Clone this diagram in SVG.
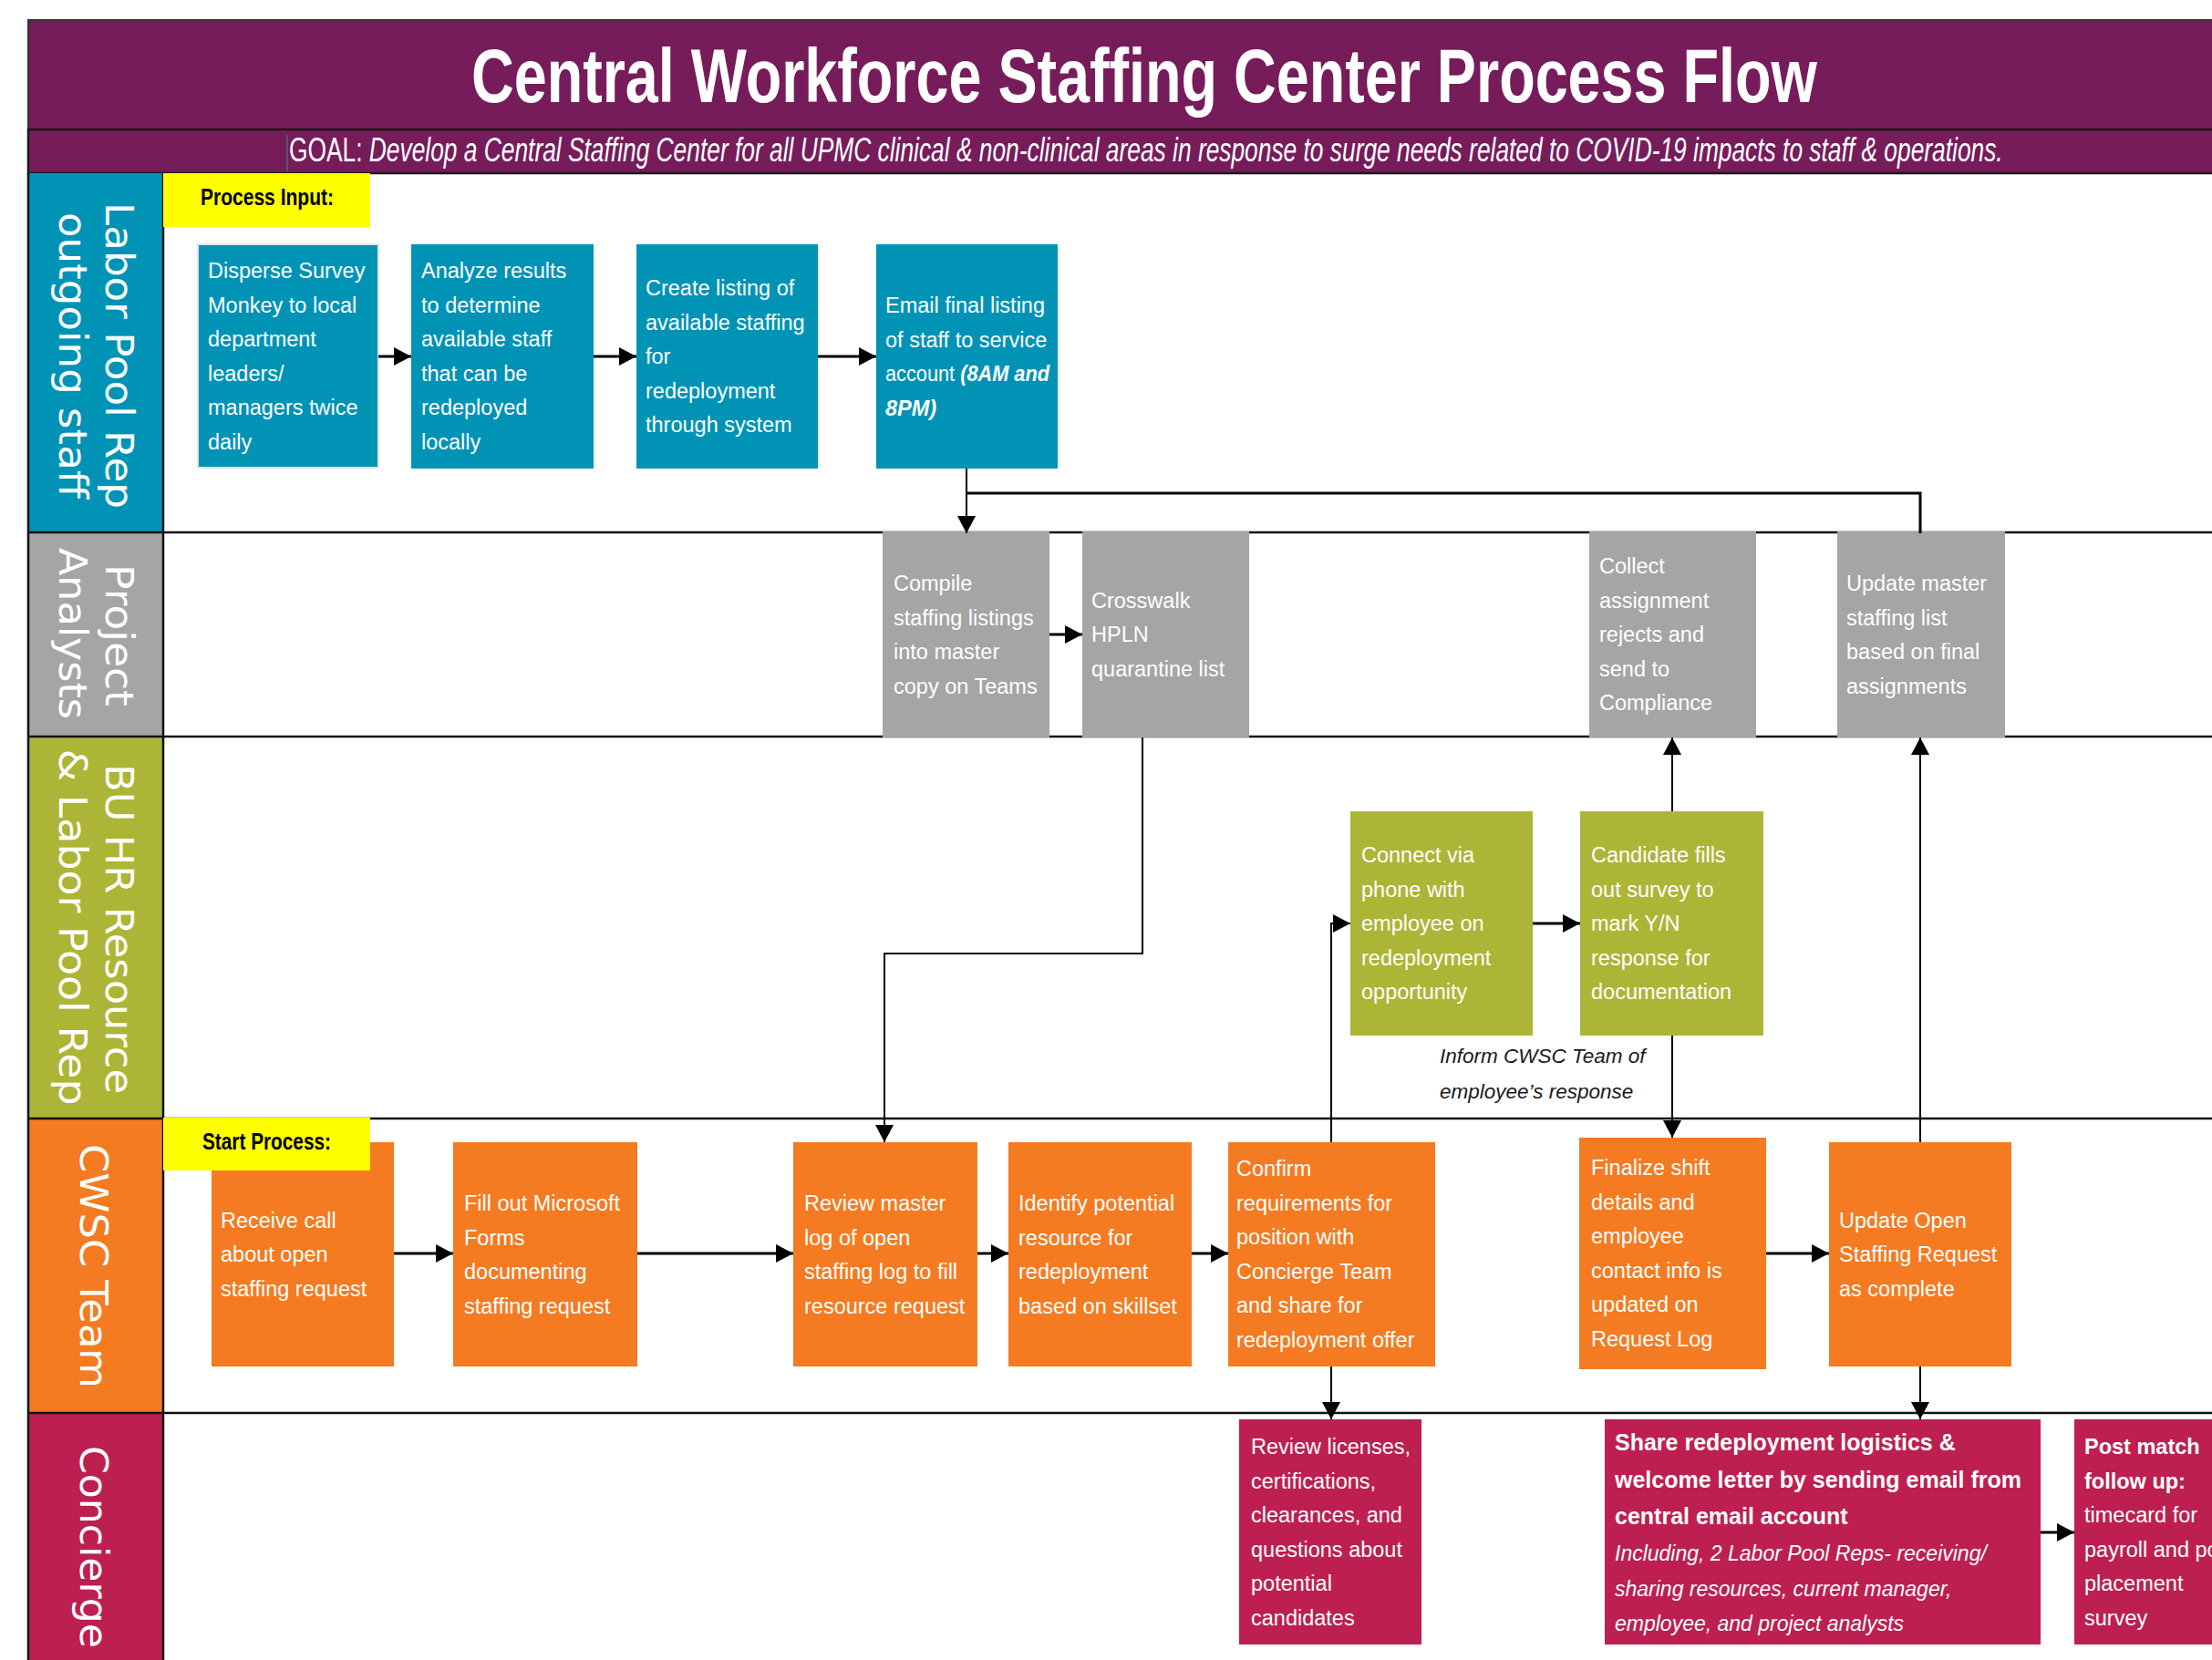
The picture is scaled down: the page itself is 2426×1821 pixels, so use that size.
<svg xmlns="http://www.w3.org/2000/svg" width="2426" height="1821" viewBox="0 0 2426 1821">
<defs>
<marker id="ah" markerUnits="userSpaceOnUse" markerWidth="19" markerHeight="20" refX="19" refY="10" orient="auto">
<path d="M0,0 L19,10 L0,20 Z" fill="#000"/>
</marker>
<style>
.nt{font-family:"Liberation Sans",Arial,sans-serif;font-size:23.5px;fill:#fff}
.b{font-weight:bold}
.i{font-style:italic}
.ll{font-family:"DejaVu Sans",Verdana,sans-serif;font-size:42px;fill:#fff}
.cn{fill:none;stroke:#000;stroke-width:2}
.th{stroke-width:3}
.lane{stroke:#111;stroke-width:2.5}
.teal{fill:#0093B6}
.gray{fill:#A5A5A5}
.olive{fill:#ACB536}
.orange{fill:#F47B22}
.crim{fill:#BD1F50}
.yl{fill:#FFFF00}
.ylt{font-family:"Liberation Sans",Arial,sans-serif;font-size:25px;font-weight:bold;fill:#000}
</style>
</defs>
<rect width="2426" height="1821" fill="#fff"/>

<!-- header -->
<g id="title">
<rect x="31" y="22" width="2400" height="120" fill="#761C5B" stroke="#333" stroke-width="2"/>
<rect x="31" y="142" width="2400" height="48" fill="#761C5B" stroke="#1a1a1a" stroke-width="2.5"/>
<text transform="translate(517,112) scale(0.77,1)" font-family="Liberation Sans, Arial, sans-serif" font-size="84" font-weight="bold" fill="#fff">Central Workforce Staffing Center Process Flow</text>
<line x1="315" y1="148" x2="315" y2="188" stroke="#4a6a70" stroke-width="1.5"/>
<text transform="translate(317,177) scale(0.712,1)" font-family="Liberation Sans, Arial, sans-serif" font-size="37" fill="#fff">GOAL: <tspan font-style="italic">Develop a Central Staffing Center for all UPMC clinical &amp; non-clinical areas in response to surge needs related to COVID-19 impacts to staff &amp; operations.</tspan></text>
</g>

<!-- lanes -->
<g id="lanes">
<rect x="31" y="190" width="148" height="394" class="teal"/>
<rect x="31" y="584" width="148" height="224" class="gray"/>
<rect x="31" y="808" width="148" height="419" class="olive"/>
<rect x="31" y="1227" width="148" height="323" class="orange"/>
<rect x="31" y="1550" width="148" height="280" class="crim"/>
<line x1="31" y1="190" x2="31" y2="1821" class="lane"/>
<line x1="179" y1="190" x2="179" y2="1821" class="lane"/>
<line x1="31" y1="584" x2="2426" y2="584" class="lane"/>
<line x1="31" y1="808" x2="2426" y2="808" class="lane"/>
<line x1="31" y1="1227" x2="2426" y2="1227" class="lane"/>
<line x1="31" y1="1550" x2="2426" y2="1550" class="lane"/>
<text class="ll" text-anchor="middle" transform="translate(116,390) rotate(90)" textLength="336" lengthAdjust="spacingAndGlyphs">Labor Pool Rep</text>
<text class="ll" text-anchor="middle" transform="translate(65,390) rotate(90)" textLength="314" lengthAdjust="spacingAndGlyphs">outgoing staff</text>
<text class="ll" text-anchor="middle" transform="translate(116,697) rotate(90)" textLength="156" lengthAdjust="spacingAndGlyphs">Project</text>
<text class="ll" text-anchor="middle" transform="translate(65,695) rotate(90)" textLength="188" lengthAdjust="spacingAndGlyphs">Analysts</text>
<text class="ll" text-anchor="middle" transform="translate(116,1019) rotate(90)" textLength="362" lengthAdjust="spacingAndGlyphs">BU HR Resource</text>
<text class="ll" text-anchor="middle" transform="translate(65,1017) rotate(90)" textLength="391" lengthAdjust="spacingAndGlyphs">&amp; Labor Pool Rep</text>
<text class="ll" text-anchor="middle" transform="translate(88,1389) rotate(90)" textLength="268" lengthAdjust="spacingAndGlyphs">CWSC Team</text>
<text class="ll" transform="translate(88,1586) rotate(90)" textLength="222" lengthAdjust="spacingAndGlyphs">Concierge</text>
</g>

<!-- nodes -->
<g id="n1"><rect x="217" y="268" width="198" height="245" class="teal" stroke="#dde7ea" stroke-width="2"/>
<text class="nt" y="305"><tspan x="228">Disperse Survey</tspan><tspan x="228" dy="37.5">Monkey to local</tspan><tspan x="228" dy="37.5">department</tspan><tspan x="228" dy="37.5">leaders/</tspan><tspan x="228" dy="37.5">managers twice</tspan><tspan x="228" dy="37.5">daily</tspan></text></g>
<g id="n2"><rect x="451" y="268" width="200" height="246" class="teal"/>
<text class="nt" y="305"><tspan x="462">Analyze results</tspan><tspan x="462" dy="37.5">to determine</tspan><tspan x="462" dy="37.5">available staff</tspan><tspan x="462" dy="37.5">that can be</tspan><tspan x="462" dy="37.5">redeployed</tspan><tspan x="462" dy="37.5">locally</tspan></text></g>
<g id="n3"><rect x="698" y="268" width="199" height="246" class="teal"/>
<text class="nt" y="324"><tspan x="708">Create listing of</tspan><tspan x="708" dy="37.5">available staffing</tspan><tspan x="708" dy="37.5">for</tspan><tspan x="708" dy="37.5">redeployment</tspan><tspan x="708" dy="37.5">through system</tspan></text></g>
<g id="n4"><rect x="961" y="268" width="199" height="246" class="teal"/>
<text class="nt" y="343"><tspan x="971">Email final listing</tspan><tspan x="971" dy="37.5">of staff to service</tspan></text>
<text class="nt" x="971" y="418" textLength="180" lengthAdjust="spacingAndGlyphs">account <tspan class="i b">(8AM and</tspan></text>
<text class="nt i b" x="971" y="455.5">8PM)</text></g>

<g id="n5"><rect x="968" y="583" width="183" height="226" class="gray"/>
<text class="nt" y="648"><tspan x="980">Compile</tspan><tspan x="980" dy="37.5">staffing listings</tspan><tspan x="980" dy="37.5">into master</tspan><tspan x="980" dy="37.5">copy on Teams</tspan></text></g>
<g id="n6"><rect x="1187" y="583" width="183" height="226" class="gray"/>
<text class="nt" y="666.5"><tspan x="1197">Crosswalk</tspan><tspan x="1197" dy="37.5">HPLN</tspan><tspan x="1197" dy="37.5">quarantine list</tspan></text></g>
<g id="n7"><rect x="1743" y="583" width="183" height="226" class="gray"/>
<text class="nt" y="629"><tspan x="1754">Collect</tspan><tspan x="1754" dy="37.5">assignment</tspan><tspan x="1754" dy="37.5">rejects and</tspan><tspan x="1754" dy="37.5">send to</tspan><tspan x="1754" dy="37.5">Compliance</tspan></text></g>
<g id="n8"><rect x="2015" y="583" width="184" height="226" class="gray"/>
<text class="nt" y="648"><tspan x="2025">Update master</tspan><tspan x="2025" dy="37.5">staffing list</tspan><tspan x="2025" dy="37.5">based on final</tspan><tspan x="2025" dy="37.5">assignments</tspan></text></g>

<g id="n9"><rect x="1481" y="890" width="200" height="246" class="olive"/>
<text class="nt" y="946"><tspan x="1493">Connect via</tspan><tspan x="1493" dy="37.5">phone with</tspan><tspan x="1493" dy="37.5">employee on</tspan><tspan x="1493" dy="37.5">redeployment</tspan><tspan x="1493" dy="37.5">opportunity</tspan></text></g>
<g id="n10"><rect x="1733" y="890" width="201" height="246" class="olive"/>
<text class="nt" y="946"><tspan x="1745">Candidate fills</tspan><tspan x="1745" dy="37.5">out survey to</tspan><tspan x="1745" dy="37.5">mark Y/N</tspan><tspan x="1745" dy="37.5">response for</tspan><tspan x="1745" dy="37.5">documentation</tspan></text></g>
<g id="note"><text class="nt i" style="fill:#1a1a1a;font-size:22.5px" y="1166"><tspan x="1579">Inform CWSC Team of</tspan><tspan x="1579" dy="38.5">employee’s response</tspan></text></g>

<g id="n11"><rect x="232" y="1253" width="200" height="246" class="orange"/>
<text class="nt" y="1346.5"><tspan x="242">Receive call</tspan><tspan x="242" dy="37.5">about open</tspan><tspan x="242" dy="37.5">staffing request</tspan></text></g>
<g id="n12"><rect x="497" y="1253" width="202" height="246" class="orange"/>
<text class="nt" y="1328"><tspan x="509">Fill out Microsoft</tspan><tspan x="509" dy="37.5">Forms</tspan><tspan x="509" dy="37.5">documenting</tspan><tspan x="509" dy="37.5">staffing request</tspan></text></g>
<g id="n13"><rect x="870" y="1253" width="202" height="246" class="orange"/>
<text class="nt" y="1328"><tspan x="882">Review master</tspan><tspan x="882" dy="37.5">log of open</tspan><tspan x="882" dy="37.5">staffing log to fill</tspan><tspan x="882" dy="37.5">resource request</tspan></text></g>
<g id="n14"><rect x="1106" y="1253" width="201" height="246" class="orange"/>
<text class="nt" y="1328"><tspan x="1117">Identify potential</tspan><tspan x="1117" dy="37.5">resource for</tspan><tspan x="1117" dy="37.5">redeployment</tspan><tspan x="1117" dy="37.5">based on skillset</tspan></text></g>
<g id="n15"><rect x="1347" y="1253" width="227" height="246" class="orange"/>
<text class="nt" y="1290"><tspan x="1356">Confirm</tspan><tspan x="1356" dy="37.5">requirements for</tspan><tspan x="1356" dy="37.5">position with</tspan><tspan x="1356" dy="37.5">Concierge Team</tspan><tspan x="1356" dy="37.5">and share for</tspan><tspan x="1356" dy="37.5">redeployment offer</tspan></text></g>
<g id="n16"><rect x="1732" y="1248" width="205" height="254" class="orange"/>
<text class="nt" y="1289"><tspan x="1745">Finalize shift</tspan><tspan x="1745" dy="37.5">details and</tspan><tspan x="1745" dy="37.5">employee</tspan><tspan x="1745" dy="37.5">contact info is</tspan><tspan x="1745" dy="37.5">updated on</tspan><tspan x="1745" dy="37.5">Request Log</tspan></text></g>
<g id="n17"><rect x="2006" y="1253" width="200" height="246" class="orange"/>
<text class="nt" y="1346.5"><tspan x="2017">Update Open</tspan><tspan x="2017" dy="37.5">Staffing Request</tspan><tspan x="2017" dy="37.5">as complete</tspan></text></g>

<g id="n18"><rect x="1359" y="1557" width="200" height="247" class="crim"/>
<text class="nt" y="1595"><tspan x="1372">Review licenses,</tspan><tspan x="1372" dy="37.5">certifications,</tspan><tspan x="1372" dy="37.5">clearances, and</tspan><tspan x="1372" dy="37.5">questions about</tspan><tspan x="1372" dy="37.5">potential</tspan><tspan x="1372" dy="37.5">candidates</tspan></text></g>
<g id="n19"><rect x="1760" y="1557" width="478" height="247" class="crim"/>
<text class="nt b" style="font-size:25px" y="1591"><tspan x="1771">Share redeployment logistics &amp;</tspan><tspan x="1771" dy="40.5">welcome letter by sending email from</tspan><tspan x="1771" dy="40.5">central email account</tspan></text>
<text class="nt i" style="font-size:23px" y="1712"><tspan x="1771">Including, 2 Labor Pool Reps- receiving/</tspan><tspan x="1771" dy="38.5">sharing resources, current manager,</tspan><tspan x="1771" dy="38.5">employee, and project analysts</tspan></text></g>
<g id="n20"><rect x="2275" y="1557" width="200" height="247" class="crim"/>
<text class="nt" y="1595"><tspan x="2286" class="b">Post match</tspan><tspan x="2286" dy="37.5" class="b">follow up:</tspan><tspan x="2286" dy="37.5">timecard for</tspan><tspan x="2286" dy="37.5">payroll and post</tspan><tspan x="2286" dy="37.5">placement</tspan><tspan x="2286" dy="37.5">survey</tspan></text></g>

<!-- yellow labels -->
<g id="process-input"><rect x="179" y="190" width="227" height="59" class="yl"/>
<text class="ylt" x="220" y="225" textLength="146" lengthAdjust="spacingAndGlyphs">Process Input:</text></g>
<g id="start-process"><rect x="179" y="1226" width="227" height="58" class="yl"/>
<text class="ylt" x="222" y="1261" textLength="141" lengthAdjust="spacingAndGlyphs">Start Process:</text></g>

<!-- connectors -->
<g id="connectors">
<path class="cn th" d="M415,391 H451" marker-end="url(#ah)"/>
<path class="cn th" d="M651,391 H698" marker-end="url(#ah)"/>
<path class="cn th" d="M897,391 H961" marker-end="url(#ah)"/>
<path class="cn" d="M1060,514 V585" marker-end="url(#ah)"/>
<path class="cn th" d="M2106,585 V541 H1060"/>
<path class="cn th" d="M1151,696 H1187" marker-end="url(#ah)"/>
<path class="cn" d="M1253,809 V1046 H970 V1253" marker-end="url(#ah)"/>
<path class="cn" d="M1460,1253 V1013 H1481" marker-end="url(#ah)"/>
<path class="cn th" d="M1681,1013 H1733" marker-end="url(#ah)"/>
<path class="cn" d="M1834,890 V809" marker-end="url(#ah)"/>
<path class="cn" d="M1834,1136 V1248" marker-end="url(#ah)"/>
<path class="cn" d="M2106,1253 V809" marker-end="url(#ah)"/>
<path class="cn th" d="M432,1375 H497" marker-end="url(#ah)"/>
<path class="cn th" d="M699,1375 H870" marker-end="url(#ah)"/>
<path class="cn th" d="M1072,1375 H1106" marker-end="url(#ah)"/>
<path class="cn th" d="M1307,1375 H1347" marker-end="url(#ah)"/>
<path class="cn th" d="M1937,1375 H2006" marker-end="url(#ah)"/>
<path class="cn" d="M1460,1499 V1557" marker-end="url(#ah)"/>
<path class="cn" d="M2106,1499 V1557" marker-end="url(#ah)"/>
<path class="cn th" d="M2238,1681 H2275" marker-end="url(#ah)"/>
</g>
</svg>
